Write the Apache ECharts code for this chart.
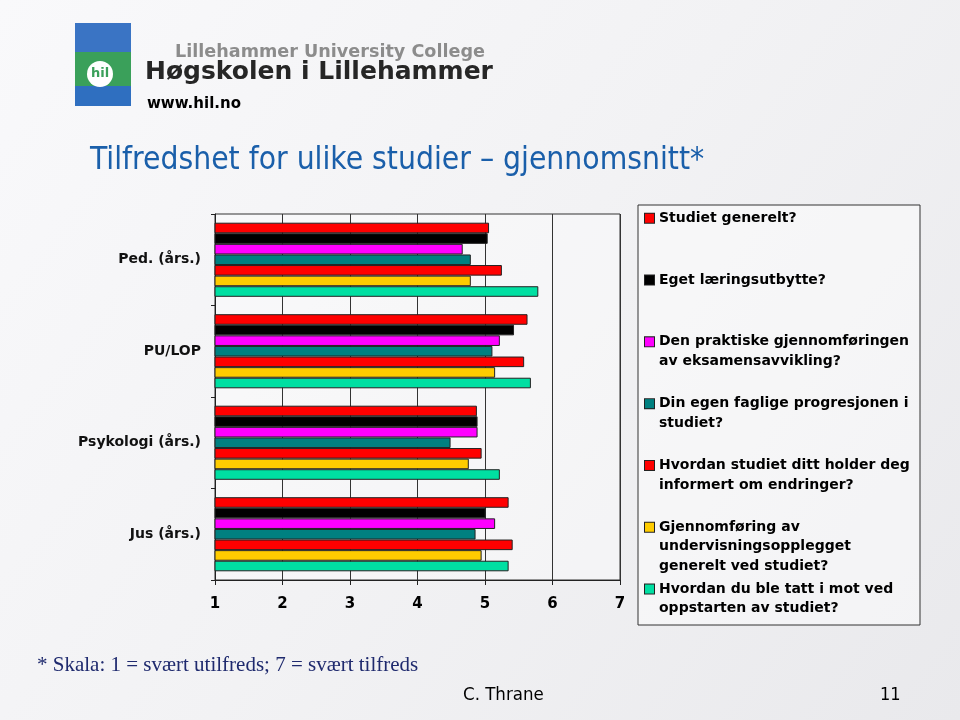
<!DOCTYPE html>
<html>
<head>
<meta charset="utf-8">
<script src="https://cdn.jsdelivr.net/npm/echarts@6/dist/echarts.min.js"></script>
<style>html,body{margin:0;padding:0;background:#f3f3f5}#c{width:960px;height:720px}</style>
</head>
<body>
<div id="c"></div>
<script>
// ---- data ----
var categories = ['Ped. (års.)', 'PU/LOP', 'Psykologi (års.)', 'Jus (års.)'];
var seriesNames = [
  'Studiet generelt?',
  'Eget læringsutbytte?',
  'Den praktiske gjennomføringen\nav eksamensavvikling?',
  'Din egen faglige progresjonen i\nstudiet?',
  'Hvordan studiet ditt holder deg\ninformert om endringer?',
  'Gjennomføring av\nundervisningsopplegget\ngenerelt ved studiet?',
  'Hvordan du ble tatt i mot ved\noppstarten av studiet?'
];
var studietGenerelt   = [5.06, 5.63, 4.88, 5.35];
var egetLaering       = [5.04, 5.43, 4.89, 5.01];
var eksamensavvikling = [4.67, 5.22, 4.89, 5.15];
var progresjon        = [4.79, 5.11, 4.49, 4.86];
var informert         = [5.25, 5.58, 4.95, 5.41];
var undervisning      = [4.79, 5.15, 4.76, 4.95];
var mottak            = [5.79, 5.68, 5.22, 5.35];
var seriesValues = [studietGenerelt, egetLaering, eksamensavvikling, progresjon, informert, undervisning, mottak];
var xTicks = [1, 2, 3, 4, 5, 6, 7];
var colors = ['#ff0000', '#000000', '#ff00ff', '#008080', '#ff0000', '#ffcc00', '#00dfa2'];

var title = 'Tilfredshet for ulike studier – gjennomsnitt*';
var footnote = '* Skala: 1 = svært utilfreds; 7 = svært tilfreds';
var author = 'C. Thrane';
var pageNo = '11';

// ---- chart ----
var chart = echarts.init(document.getElementById('c'), null, {renderer: 'canvas'});
var sans = 'DejaVu Sans, Verdana, sans-serif';
var narrow = '"Liberation Sans Narrow", "DejaVu Sans Condensed", "Liberation Sans", sans-serif';

var rich = { ind: { width: 14 } };
colors.forEach(function (c, i) {
  rich['sq' + i] = { width: 9, height: 9, backgroundColor: c, borderColor: '#222', borderWidth: 1 };
  rich['gp' + i] = { width: 5 };
});

var legends = seriesNames.map(function (name, i) {
  return {
    data: [name],
    left: 640,
    top: 208.5 + i * 61.8,
    padding: 0,
    orient: 'vertical',
    icon: 'rect',
    itemWidth: 0,
    itemHeight: 10,
    itemGap: 0,
    selectedMode: false,
    itemStyle: { color: 'rgba(0,0,0,0)', borderWidth: 0, borderColor: 'rgba(0,0,0,0)' },
    textStyle: { fontFamily: sans, fontWeight: 'bold', fontSize: 14, color: '#000', lineHeight: 19.5, rich: rich },
    formatter: function (n) {
      var idx = seriesNames.indexOf(n);
      var lines = n.split('\n');
      return lines.map(function (l, k) {
        return k === 0 ? '{sq' + idx + '| }{gp' + idx + '|}' + l : '{ind|}' + l;
      }).join('\n');
    }
  };
});

var series = seriesNames.map(function (name, i) {
  return {
    name: name,
    type: 'bar',
    data: seriesValues[i],
    barGap: '0%',
    barCategoryGap: '19%',
    itemStyle: { color: colors[i], borderColor: '#222', borderWidth: 1 },
    emphasis: { disabled: true }
  };
});

var option = {
  animation: false,
  textStyle: { fontFamily: sans },
  grid: { left: 215, right: 340, top: 214, bottom: 140, show: true, borderColor: '#333', borderWidth: 1, backgroundColor: 'rgba(255,255,255,0.35)' },
  xAxis: {
    type: 'value', min: 1, max: 7, interval: 1,
    axisLine: { show: true, lineStyle: { color: '#222', width: 1 } },
    axisTick: { show: true, length: 5, lineStyle: { color: '#222' } },
    axisLabel: { fontFamily: sans, fontWeight: 'bold', fontSize: 15, color: '#000', margin: 17,
      formatter: function (v) { return xTicks.indexOf(v) >= 0 ? String(v) : ''; } },
    splitLine: { show: true, lineStyle: { color: '#333', width: 1 } }
  },
  yAxis: {
    type: 'category', data: categories, inverse: true,
    axisLine: { show: true, lineStyle: { color: '#222', width: 1 } },
    axisTick: { show: true, length: 4, lineStyle: { color: '#222' } },
    axisLabel: { fontFamily: sans, fontWeight: 'bold', fontSize: 14, color: '#111', margin: 14 },
    splitLine: { show: false }
  },
  legend: legends,
  series: series,
  graphic: [
    { type: 'rect', z: -100, silent: true, shape: { x: 0, y: 0, width: 960, height: 720 },
      style: { fill: new echarts.graphic.LinearGradient(0, 0, 1, 1, [
        { offset: 0, color: '#f9f9fb' }, { offset: 0.5, color: '#f2f2f4' }, { offset: 1, color: '#e9e9ec' }]) } },
    // logo
    { type: 'rect', z: -50, shape: { x: 75, y: 23, width: 56, height: 38 }, style: { fill: '#3a74c4' } },
    { type: 'rect', z: -49, shape: { x: 75, y: 52, width: 56, height: 38 }, style: { fill: '#3aa05a' } },
    { type: 'rect', z: -48, shape: { x: 75, y: 86, width: 56, height: 20 }, style: { fill: '#2f6fc0' } },
    { type: 'circle', z: -47, shape: { cx: 100, cy: 74, r: 13 }, style: { fill: '#ffffff' } },
    { type: 'text', z: -46, x: 100, y: 74, style: { text: 'hil', fill: '#3aa05a', font: 'bold 13px DejaVu Sans', align: 'center', verticalAlign: 'middle' } },
    { type: 'text', z: -40, x: 175, y: 52, style: { text: 'Lillehammer University College', fill: '#8c8c8c', font: 'bold 17.6px DejaVu Sans', verticalAlign: 'middle' } },
    { type: 'text', z: -40, x: 145, y: 72, style: { text: 'Høgskolen i Lillehammer', fill: '#262626', font: 'bold 25px DejaVu Sans', verticalAlign: 'middle' } },
    { type: 'text', z: -40, x: 147, y: 104, style: { text: 'www.hil.no', fill: '#000', font: 'bold 15px DejaVu Sans', verticalAlign: 'middle' } },
    // title
    { type: 'text', x: 90, y: 161, style: { text: title, fill: '#1a5faa', font: '31.5px ' + narrow, verticalAlign: 'middle' } },
    // legend frame
    { type: 'rect', z: -5, shape: { x: 638, y: 205, width: 282, height: 420 }, style: { fill: 'rgba(255,255,255,0.45)', stroke: '#333', lineWidth: 1 } },
    // footnote
    { type: 'text', x: 37, y: 665, style: { text: footnote, fill: '#1f2a6e', font: '21px "Liberation Serif", "Times New Roman", serif', verticalAlign: 'middle' } },
    { type: 'text', x: 463, y: 695, style: { text: author, fill: '#000', font: '18.5px ' + narrow, verticalAlign: 'middle' } },
    { type: 'text', x: 880, y: 695, style: { text: pageNo, fill: '#000', font: '18px ' + narrow, verticalAlign: 'middle' } }
  ]
};
chart.setOption(option);
</script>
</body>
</html>
